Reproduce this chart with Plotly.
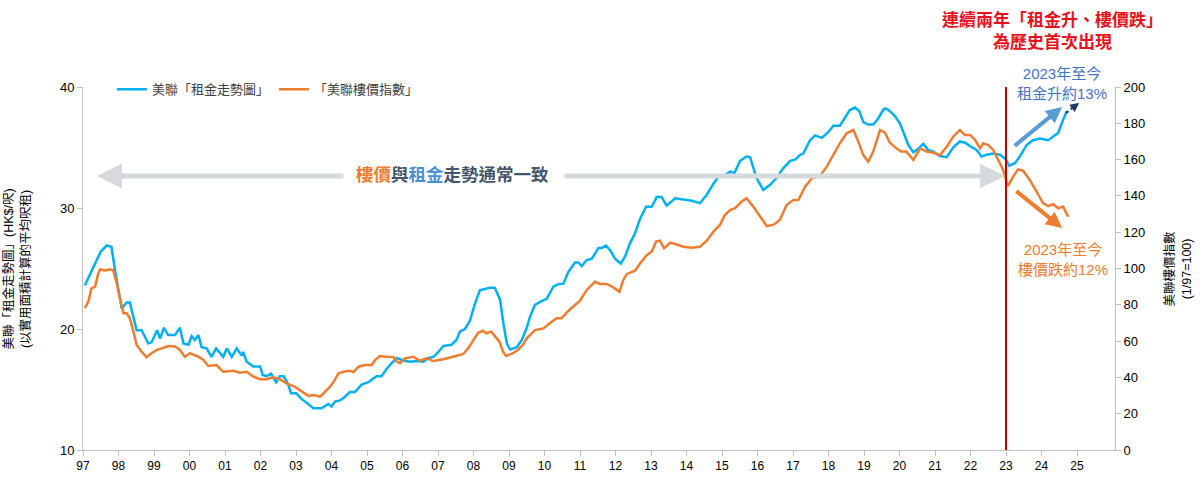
import plotly.graph_objects as go

# ---------------- data ----------------
rent_year = [1997.05, 1997.3, 1997.5, 1997.67, 1997.8, 1997.9, 1998.09, 1998.23, 1998.32, 1998.51,
             1998.65, 1998.84, 1998.93, 1999.09, 1999.17, 1999.28, 1999.4, 1999.59, 1999.73, 1999.83,
             1999.97, 2000.06, 2000.15, 2000.25, 2000.34, 2000.48, 2000.62, 2000.75, 2000.86, 2000.95,
             2001.05, 2001.19, 2001.33, 2001.47, 2001.51, 2001.61, 2001.8, 2001.99, 2002.06, 2002.17,
             2002.3, 2002.44, 2002.54, 2002.65, 2002.77, 2002.86, 2003.0, 2003.16, 2003.3, 2003.49,
             2003.72, 2003.91, 2004.0, 2004.1, 2004.24, 2004.38, 2004.52, 2004.66, 2004.85, 2005.04,
             2005.13, 2005.27, 2005.41, 2005.55, 2005.7, 2005.84, 2006.02, 2006.21, 2006.4, 2006.59,
             2006.73, 2006.87, 2007.01, 2007.15, 2007.38, 2007.52, 2007.62, 2007.76, 2007.9, 2008.04,
             2008.18, 2008.32, 2008.46, 2008.6, 2008.75, 2008.84, 2008.94, 2009.03, 2009.22, 2009.36,
             2009.5, 2009.59, 2009.73, 2009.92, 2010.06, 2010.25, 2010.39, 2010.53, 2010.67, 2010.86,
             2010.95, 2011.05, 2011.19, 2011.33, 2011.52, 2011.61, 2011.73, 2011.85, 2011.99, 2012.15,
             2012.27, 2012.41, 2012.55, 2012.69, 2012.86, 2013.02, 2013.16, 2013.3, 2013.44, 2013.68,
             2013.91, 2014.15, 2014.38, 2014.57, 2014.76, 2014.9, 2015.08, 2015.23, 2015.35, 2015.51,
             2015.69, 2015.79, 2015.97, 2016.16, 2016.35, 2016.54, 2016.73, 2016.92, 2017.06, 2017.2,
             2017.29, 2017.48, 2017.62, 2017.81, 2017.97, 2018.14, 2018.32, 2018.46, 2018.6, 2018.75,
             2018.87, 2018.98, 2019.12, 2019.26, 2019.4, 2019.56, 2019.63, 2019.73, 2019.87, 2020.01,
             2020.15, 2020.25, 2020.39, 2020.53, 2020.67, 2020.81, 2020.95, 2021.14, 2021.33, 2021.51,
             2021.7, 2021.85, 2021.99, 2022.17, 2022.31, 2022.45, 2022.64, 2022.83, 2022.97, 2023.09,
             2023.25, 2023.39, 2023.58, 2023.76, 2023.95, 2024.19, 2024.33, 2024.47, 2024.61, 2024.71]
rent_value = [23.6, 25.15, 26.4, 26.9, 26.8, 24.9, 21.7, 22.2, 22.2, 19.9,
              19.9, 18.8, 18.9, 19.9, 19.2, 20.1, 19.5, 19.5, 20.1, 18.8,
              18.7, 19.4, 19.1, 19.5, 18.5, 18.4, 17.7, 18.4, 18.0, 17.7,
              18.4, 17.7, 18.4, 17.8, 18.1, 17.3, 16.9, 16.9, 16.2, 16.1,
              16.3, 15.6, 16.1, 16.1, 15.5, 14.7, 14.7, 14.2, 13.9, 13.45,
              13.45, 13.8, 13.6, 14.0, 14.1, 14.4, 14.8, 14.8, 15.4, 15.6,
              15.8, 16.1, 16.1, 16.7, 17.2, 17.6, 17.4, 17.3, 17.35, 17.3,
              17.6, 17.7, 18.1, 18.6, 18.7, 19.1, 19.8, 20.0, 20.7, 22.1,
              23.2, 23.3, 23.4, 23.4, 22.4, 20.5, 18.8, 18.3, 18.5, 19.1,
              20.1, 21.0, 22.0, 22.3, 22.5, 23.5, 23.7, 23.75, 24.7, 25.5,
              25.5, 25.2, 25.7, 25.8, 26.7, 26.7, 26.9, 26.5, 25.8, 25.4,
              26.0, 27.1, 27.9, 29.1, 30.1, 30.1, 30.9, 30.9, 30.2, 30.8,
              30.7, 30.6, 30.4, 31.1, 32.0, 32.6, 32.7, 33.0, 32.9, 33.9,
              34.25, 34.2, 32.5, 31.5, 31.9, 32.5, 33.3, 33.9, 34.0, 34.4,
              34.5, 35.6, 36.0, 35.8, 36.2, 36.8, 36.8, 37.4, 38.1, 38.3,
              38.0, 37.1, 36.9, 36.9, 37.4, 38.2, 38.2, 38.0, 37.6, 37.0,
              35.9, 35.2, 34.6, 34.9, 35.3, 34.8, 34.65, 34.3, 34.2, 35.0,
              35.5, 35.4, 35.1, 34.8, 34.25, 34.4, 34.5, 34.4, 34.1, 33.5,
              33.7, 34.25, 35.2, 35.6, 35.75, 35.6, 35.9, 36.2, 37.3, 38.0]

price_year = [1997.05, 1997.15, 1997.24, 1997.34, 1997.43, 1997.48, 1997.62, 1997.76, 1997.85, 1997.95,
              1998.04, 1998.14, 1998.23, 1998.32, 1998.42, 1998.51, 1998.65, 1998.79, 1998.93, 1999.08,
              1999.22, 1999.4, 1999.59, 1999.73, 1999.87, 2000.01, 2000.25, 2000.39, 2000.53, 2000.76,
              2000.95, 2001.23, 2001.42, 2001.61, 2001.8, 2001.99, 2002.17, 2002.36, 2002.54, 2002.73,
              2002.96, 2003.2, 2003.35, 2003.49, 2003.68, 2003.82, 2003.96, 2004.06, 2004.2, 2004.34,
              2004.52, 2004.62, 2004.76, 2004.94, 2005.13, 2005.23, 2005.37, 2005.55, 2005.74, 2005.84,
              2005.93, 2006.07, 2006.3, 2006.49, 2006.68, 2006.87, 2006.96, 2007.15, 2007.43, 2007.71,
              2007.85, 2007.99, 2008.13, 2008.27, 2008.36, 2008.5, 2008.64, 2008.73, 2008.83, 2008.92,
              2009.11, 2009.25, 2009.39, 2009.5, 2009.73, 2009.97, 2010.15, 2010.34, 2010.48, 2010.67,
              2010.86, 2011.0, 2011.19, 2011.42, 2011.56, 2011.75, 2011.94, 2012.11, 2012.22, 2012.32,
              2012.55, 2012.69, 2012.88, 2013.02, 2013.14, 2013.25, 2013.37, 2013.54, 2013.68, 2013.91,
              2014.15, 2014.38, 2014.57, 2014.76, 2014.94, 2015.08, 2015.23, 2015.37, 2015.55, 2015.69,
              2015.88, 2016.07, 2016.26, 2016.44, 2016.63, 2016.82, 2017.01, 2017.15, 2017.34, 2017.53,
              2017.76, 2017.95, 2018.14, 2018.32, 2018.51, 2018.7, 2018.84, 2018.98, 2019.12, 2019.26,
              2019.45, 2019.59, 2019.73, 2019.91, 2020.05, 2020.19, 2020.39, 2020.58, 2020.77, 2020.95,
              2021.14, 2021.33, 2021.51, 2021.7, 2021.84, 2021.99, 2022.13, 2022.27, 2022.36, 2022.5,
              2022.64, 2022.83, 2022.92, 2023.0, 2023.06, 2023.2, 2023.34, 2023.48, 2023.67, 2023.86,
              2024.05, 2024.19, 2024.33, 2024.47, 2024.61, 2024.75]
price_value = [78.1, 81.7, 89.1, 90.0, 97.3, 99.5, 98.9, 99.5, 99.0, 91.8,
               83.6, 75.3, 75.3, 72.6, 65.2, 57.9, 54.2, 51.1, 53.3, 55.1,
               56.0, 57.3, 57.0, 55.1, 51.4, 53.3, 51.4, 49.6, 46.3, 46.8,
               43.1, 43.7, 42.6, 43.1, 40.4, 39.0, 39.0, 40.0, 39.0, 36.7,
               34.9, 32.0, 29.8, 30.3, 29.4, 32.1, 34.9, 37.6, 42.3, 43.1,
               43.7, 42.9, 45.9, 46.8, 46.8, 49.6, 51.8, 51.4, 51.2, 48.7,
               47.8, 50.5, 51.4, 49.2, 50.5, 49.0, 49.2, 50.0, 51.4, 52.9,
               56.0, 60.6, 64.6, 65.7, 64.3, 65.2, 62.1, 59.7, 54.2, 51.8,
               53.3, 55.1, 57.9, 61.5, 66.1, 67.0, 69.8, 72.6, 72.6, 76.6,
               79.9, 82.3, 88.2, 92.7, 91.5, 91.5, 89.6, 87.2, 93.7, 97.0,
               98.8, 102.8, 107.4, 109.3, 114.8, 115.3, 111.1, 114.2, 113.5, 112.0,
               111.5, 112.0, 115.3, 120.3, 124.0, 129.5, 132.2, 133.2, 136.8, 138.7,
               134.1, 128.5, 123.4, 124.0, 126.7, 135.0, 137.7, 137.7, 145.1, 149.7,
               151.0, 156.1, 162.5, 169.0, 174.5, 176.3, 169.9, 162.5, 158.9, 164.4,
               176.3, 174.8, 169.3, 166.2, 164.4, 164.4, 159.8, 166.2, 164.4, 163.8,
               162.5, 167.1, 172.6, 176.3, 173.6, 173.6, 170.8, 166.2, 169.0, 168.0,
               165.3, 158.0, 154.3, 148.8, 145.5, 150.6, 154.6, 153.9, 148.8, 142.3,
               135.9, 134.4, 135.5, 133.2, 134.1, 128.5]

tick_years = list(range(1997, 2026))
tick_labels = ["97", "98", "99", "00", "01", "02", "03", "04", "05", "06", "07", "08", "09", "10",
               "11", "12", "13", "14", "15", "16", "17", "18", "19", "20", "21", "22", "23", "24", "25"]

rent_name = "美聯「租金走勢圖」"
price_name = "「美聯樓價指數」"
marker_year = 2023

BLUE = "#00b0f0"
ORANGE = "#ed7d31"
FONT = "Liberation Sans, Noto Sans CJK TC, sans-serif"

fig = go.Figure()
fig.add_trace(go.Scatter(x=rent_year, y=rent_value, name=rent_name, mode="lines",
                         line=dict(color=BLUE, width=2.5), yaxis="y"))
fig.add_trace(go.Scatter(x=price_year, y=price_value, name=price_name, mode="lines",
                         line=dict(color=ORANGE, width=2.5), yaxis="y2"))

# red vertical marker line
fig.add_shape(type="line", xref="x", yref="paper", x0=marker_year, x1=marker_year, y0=0, y1=1,
              line=dict(color="#c00000", width=2))
# dotted navy segment before the small arrowhead
fig.add_shape(type="line", xref="x", yref="y", x0=2024.69, y0=37.85, x1=2024.98, y1=38.55,
              line=dict(color="#1f3864", width=2, dash="dot"))

annotations = []
# grey "usually consistent" double arrow
annotations.append(dict(x=1997.39, y=32.64, ax=2004.38, ay=32.64, xref="x", yref="y",
                        axref="x", ayref="y", text="", showarrow=True, arrowhead=2,
                        arrowsize=1.0, arrowwidth=5, arrowcolor="#d6d9de"))
annotations.append(dict(x=2022.97, y=32.64, ax=2010.52, ay=32.64, xref="x", yref="y",
                        axref="x", ayref="y", text="", showarrow=True, arrowhead=2,
                        arrowsize=1.0, arrowwidth=5, arrowcolor="#d6d9de"))
annotations.append(dict(x=0.3585, y=0.758, xref="paper", yref="paper", showarrow=False,
                        xanchor="center", yanchor="middle",
                        text=("<b><span style='color:#ed7d31'>樓價</span>與"
                              "<span style='color:#4a90d0'>租金</span>走勢通常一致</b>"),
                        font=dict(family=FONT, size=17.5, color="#44546a")))
# rent-up arrow
annotations.append(dict(x=2024.58, y=38.35, ax=2023.2, ay=35.04, xref="x", yref="y",
                        axref="x", ayref="y", text="", showarrow=True, arrowhead=2,
                        arrowsize=0.8, arrowwidth=4, arrowcolor="#5b9bd5"))
annotations.append(dict(x=2025.06, y=38.68, ax=-4, ay=3, xref="x", yref="y",
                        text="", showarrow=True, arrowhead=2, arrowsize=0.9,
                        arrowwidth=2, arrowcolor="#1f3864"))
# price-down arrow
annotations.append(dict(x=2024.58, y=28.35, ax=2023.25, ay=31.49, xref="x", yref="y",
                        axref="x", ayref="y", text="", showarrow=True, arrowhead=2,
                        arrowsize=0.8, arrowwidth=4, arrowcolor=ORANGE))
# texts
annotations.append(dict(x=0.939, y=1.155, xref="paper", yref="paper", showarrow=False,
                        xanchor="center", yanchor="middle",
                        text="<b>連續兩年「租金升、樓價跌」<br>為歷史首次出現</b>",
                        font=dict(family=FONT, size=17, color="#e8101a")))
annotations.append(dict(x=0.949, y=1.011, xref="paper", yref="paper", showarrow=False,
                        xanchor="center", yanchor="middle",
                        text="2023年至今<br>租金升約13%",
                        font=dict(family=FONT, size=15, color="#4472c4")))
annotations.append(dict(x=0.95, y=0.526, xref="paper", yref="paper", showarrow=False,
                        xanchor="center", yanchor="middle",
                        text="2023年至今<br>樓價跌約12%",
                        font=dict(family=FONT, size=15, color=ORANGE)))
# axis titles
annotations.append(dict(x=-0.064, y=0.5, xref="paper", yref="paper", showarrow=False,
                        xanchor="center", yanchor="middle", textangle=-90,
                        text="美聯「租金走勢圖」(HK$/呎)<br>(以實用面積計算的平均呎租)",
                        font=dict(family=FONT, size=12.5, color="#000000")))
annotations.append(dict(x=1.061, y=0.5, xref="paper", yref="paper", showarrow=False,
                        xanchor="center", yanchor="middle", textangle=-90,
                        text="美聯樓價指數<br>(1/97=100)",
                        font=dict(family=FONT, size=12.5, color="#000000")))

fig.update_layout(
    width=1200, height=485,
    margin=dict(l=83, r=85, t=87, b=35, autoexpand=False),
    paper_bgcolor="white", plot_bgcolor="white",
    font=dict(family=FONT, size=12, color="#000000"),
    showlegend=True,
    legend=dict(orientation="h", x=0.028, y=1.035, xanchor="left", yanchor="top",
                font=dict(family=FONT, size=13, color="#404040"), bgcolor="rgba(0,0,0,0)"),
    xaxis=dict(range=[1997, 2026.07], tickmode="array", tickvals=tick_years, ticktext=tick_labels,
               showgrid=False, zeroline=False, showline=True, linecolor="#bfbfbf", linewidth=1,
               ticks="outside", ticklen=5, tickcolor="#bfbfbf",
               tickfont=dict(family=FONT, size=12, color="#000000")),
    yaxis=dict(range=[10, 40], tickvals=[10, 20, 30, 40], showgrid=False, zeroline=False,
               showline=True, linecolor="#bfbfbf", linewidth=1, ticks="outside", ticklen=5,
               tickcolor="#bfbfbf", tickfont=dict(family=FONT, size=13, color="#000000")),
    yaxis2=dict(range=[0, 200], dtick=20, overlaying="y", side="right", showgrid=False,
                zeroline=False, showline=True, linecolor="#bfbfbf", linewidth=1,
                ticks="outside", ticklen=5, tickcolor="#bfbfbf",
                tickfont=dict(family=FONT, size=13, color="#000000")),
    annotations=annotations,
)

fig.write_html("out.html")
